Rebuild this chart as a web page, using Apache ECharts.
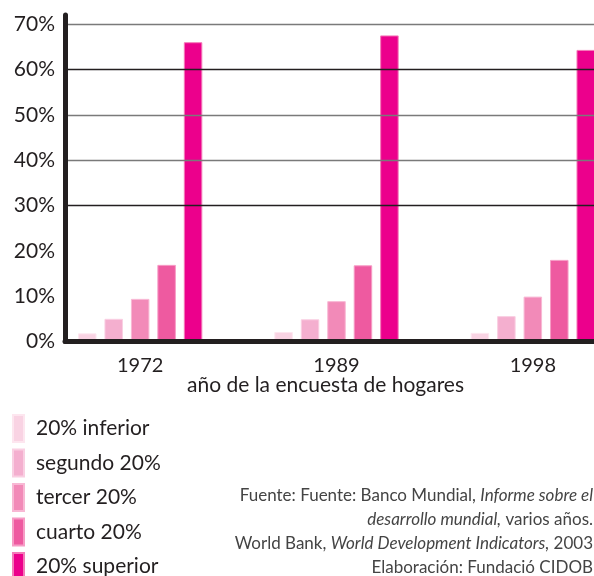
<!DOCTYPE html>
<html>
<head>
<meta charset="utf-8">
<script src="https://cdn.jsdelivr.net/npm/echarts@6/dist/echarts.min.js"></script>
<style>
  html, body { margin: 0; padding: 0; background: #fff; }
  #chart { width: 594px; height: 576px; }
</style>
</head>
<body>
<div id="chart"></div>
<script>
// Survey years (x categories)
const years = ['1972', '1989', '1998'];

// Income share held by each quintile, in percent
const seriesNames = ['20% inferior', 'segundo 20%', 'tercer 20%', 'cuarto 20%', '20% superior'];
const inferior = [1.8, 2.1, 1.9];
const segundo  = [5.0, 4.9, 5.6];
const tercer   = [9.4, 8.9, 9.9];
const cuarto   = [16.9, 16.8, 18.0];
const superior = [66.0, 67.5, 64.3];

// Y axis ticks
const yTicks = [0, 10, 20, 30, 40, 50, 60, 70];

// Source note, one entry per line ({i|...} = italic)
const sourceLines = [
  'Fuente: Fuente: Banco Mundial, {i|Informe sobre el}',
  '{i|desarrollo mundial,} varios años.',
  'World Bank, {i|World Development Indicators,} 2003',
  'Elaboración: Fundació CIDOB'
];

const colors  = ['#f9d3e3', '#f4afcf', '#f28ab8', '#ee5aa0', '#ec008c'];
const borders = ['#fde6ef', '#f9cfe2', '#f8b8d4', '#f69cc5', '#f47ab8'];
const values  = [inferior, segundo, tercer, cuarto, superior];

const FONT = 'Lato';
const INK = '#231f20';
const NOTE = '#444';

const plotTop = 15, plotBottom = 234.5;

const chart = echarts.init(document.getElementById('chart'), null, { renderer: 'canvas' });

chart.setOption({
  animation: false,
  backgroundColor: '#fff',
  textStyle: { fontFamily: FONT },
  grid: [
    // frame grid: y axis, gridlines and base line
    { left: 65, right: 0, top: plotTop, bottom: plotBottom, outerBoundsMode: 'none', containLabel: false },
    // bar grid: wider band so groups are spaced evenly
    { left: 42, width: 589, top: plotTop, bottom: plotBottom, outerBoundsMode: 'none', containLabel: false }
  ],
  xAxis: [
    {
      gridIndex: 0, type: 'value', min: 0, max: 1, z: 5,
      axisLine: { show: true, onZero: false, lineStyle: { color: INK, width: 5 } },
      axisTick: { show: false }, axisLabel: { show: false }, splitLine: { show: false }
    },
    {
      gridIndex: 1, type: 'category', data: years,
      axisLine: { show: false }, axisTick: { show: false },
      axisLabel: { color: INK, fontSize: 20, fontFamily: FONT, margin: 14 }
    }
  ],
  yAxis: [
    {
      gridIndex: 0, type: 'value', min: 0, max: 72, interval: 10, z: 5,
      axisLine: { show: true, lineStyle: { color: INK, width: 5 } },
      axisTick: { show: false },
      axisLabel: {
        color: INK, fontSize: 21, fontFamily: FONT, margin: 10,
        showMaxLabel: false,
        formatter: v => (yTicks.indexOf(v) >= 0 ? v + '%' : '')
      },
      splitLine: {
        show: true, showMaxLine: false,
        lineStyle: {
          width: 1.3,
          color: ['rgba(0,0,0,0)', 'rgba(0,0,0,0)', 'rgba(0,0,0,0)', '#231f20',
                  '#7a7a7a', '#7a7a7a', '#231f20', '#7a7a7a']
        }
      }
    },
    {
      gridIndex: 1, type: 'value', min: 0, max: 72, show: false,
      splitLine: { show: false }
    }
  ],
  legend: {
    orient: 'vertical', left: 12, top: 414, height: 200, padding: 0,
    itemWidth: 11, itemHeight: 27, itemGap: 5.5, icon: 'rect',
    textStyle: { color: INK, fontSize: 21, fontFamily: FONT, padding: [0, 0, 0, 7] },
    data: seriesNames
  },
  series: seriesNames.map((name, i) => ({
    name: name,
    type: 'bar',
    xAxisIndex: 1, yAxisIndex: 1,
    barWidth: 18.5,
    barGap: '43%',
    itemStyle: { color: colors[i], borderColor: borders[i], borderWidth: 1 },
    data: values[i]
  })),
  graphic: [
    {
      type: 'text', left: 187, top: 375,
      style: { text: 'año de la encuesta de hogares', fill: INK, font: '21px ' + FONT }
    }
  ].concat(sourceLines.map((line, i) => ({
    type: 'text', right: 1, top: 487.5 + i * 23.7,
    style: {
      text: line, fill: NOTE, font: '17px ' + FONT,
      rich: { i: { fontStyle: 'italic', fontSize: 17, fontFamily: FONT, fill: NOTE } }
    }
  })))
});
</script>
</body>
</html>
